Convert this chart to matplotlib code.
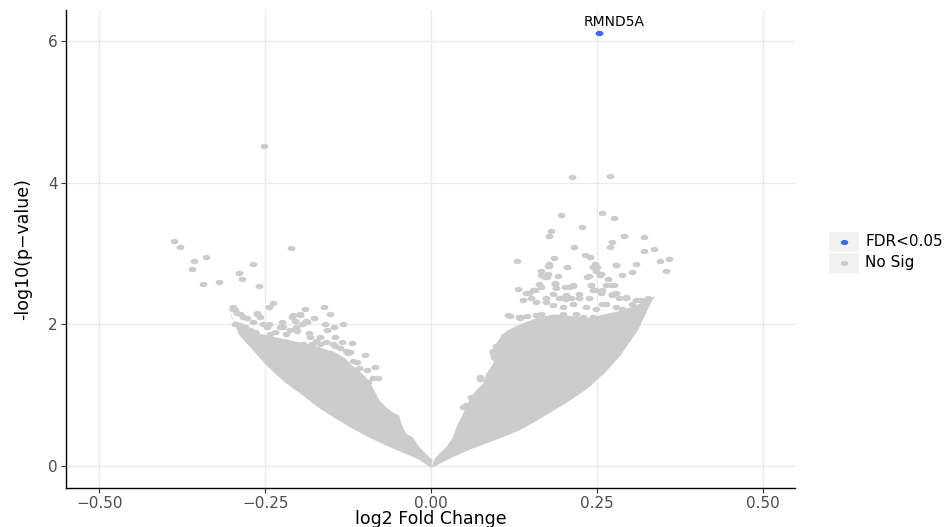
import numpy as np
import matplotlib.pyplot as plt
from matplotlib.patches import Rectangle
from matplotlib.lines import Line2D

# Dense part of the cloud (left side): outer edge then inner edge
left_cloud_x = [-0.305, -0.290, -0.270, -0.245, -0.220, -0.194, -0.169, -0.144, -0.119,
                -0.093, -0.068, -0.043, -0.018, 0.000,
                0.002, -0.018, -0.028, -0.038, -0.045, -0.048, -0.058, -0.068, -0.078,
                -0.083, -0.091, -0.098, -0.109, -0.119, -0.129, -0.144, -0.169, -0.194,
                -0.220, -0.245, -0.270, -0.290, -0.300]
left_cloud_y = [2.24, 1.86, 1.65, 1.39, 1.18, 1.00, 0.82, 0.67, 0.53,
                0.40, 0.29, 0.19, 0.09, -0.03,
                0.08, 0.27, 0.41, 0.46, 0.60, 0.71, 0.76, 0.83, 0.93,
                1.02, 1.16, 1.25, 1.35, 1.42, 1.52, 1.60, 1.68, 1.74,
                1.79, 1.84, 1.90, 1.98, 2.08]

# Dense part of the cloud (right side): outer edge then inner edge
right_cloud_x = [0.000, 0.033, 0.058, 0.083, 0.109, 0.134, 0.159, 0.184, 0.210, 0.235,
                 0.260, 0.285, 0.311, 0.333, 0.338,
                 0.311, 0.285, 0.260, 0.235, 0.210, 0.184, 0.159, 0.134, 0.114, 0.104,
                 0.093, 0.098, 0.093, 0.083, 0.078, 0.068, 0.058, 0.053, 0.048, 0.043,
                 0.038, 0.033, 0.023, 0.013, 0.005]
right_cloud_y = [-0.03, 0.13, 0.23, 0.32, 0.41, 0.51, 0.64, 0.78, 0.93, 1.09,
                 1.30, 1.56, 1.91, 2.34, 2.40,
                 2.28, 2.19, 2.14, 2.09, 2.12, 2.14, 2.09, 2.00, 1.91, 1.81,
                 1.67, 1.58, 1.44, 1.30, 1.16, 1.07, 0.95, 0.83, 0.74, 0.64,
                 0.55, 0.41, 0.27, 0.18, 0.10]

# Scattered genes outside the dense cloud (No Sig)
left_pts_x = [-0.252, -0.387, -0.379, -0.357, -0.339, -0.360, -0.344, -0.319, -0.290,
              -0.285, -0.268, -0.260, -0.211,
              -0.299, -0.293, -0.238, -0.244, -0.262, -0.190, -0.162, -0.152, -0.208,
              -0.198, -0.176, -0.189, -0.205, -0.160, -0.146, -0.133, -0.245, -0.278,
              -0.268, -0.294, -0.202, -0.184, -0.168, -0.157, -0.145, -0.223, -0.134,
              -0.119, -0.168, -0.193, -0.145, -0.129, -0.123, -0.100, -0.118, -0.108,
              -0.085, -0.088, -0.080, -0.153, -0.170,
              -0.298, -0.295, -0.288, -0.283, -0.295, -0.288, -0.280, -0.273, -0.265,
              -0.263, -0.258, -0.253, -0.248, -0.243, -0.235, -0.228, -0.225, -0.218,
              -0.213, -0.203, -0.195, -0.210, -0.198, -0.187, -0.183, -0.173, -0.193,
              -0.180, -0.158, -0.148, -0.138, -0.125, -0.112, -0.097, -0.108, -0.095]
left_pts_y = [4.52, 3.18, 3.10, 2.89, 2.95, 2.78, 2.57, 2.60, 2.73,
              2.64, 2.86, 2.54, 3.08,
              2.22, 2.16, 2.30, 2.25, 2.16, 2.22, 2.24, 2.15, 2.13,
              2.15, 2.09, 2.05, 2.05, 2.01, 1.97, 2.00, 2.00, 2.09,
              2.03, 2.00, 1.91, 1.88, 1.82, 1.92, 1.82, 1.96, 1.75,
              1.74, 1.73, 1.73, 1.70, 1.63, 1.61, 1.57, 1.49, 1.38,
              1.40, 1.25, 1.25, 1.59, 1.60,
              2.24, 2.20, 2.15, 2.10, 2.01, 1.99, 1.96, 1.92, 1.89,
              2.15, 2.10, 2.01, 1.96, 1.87, 1.89, 1.96, 2.03, 1.87,
              1.92, 1.96, 2.01, 2.10, 2.13, 2.03, 1.82, 1.77, 1.70,
              1.73, 1.75, 1.73, 1.66, 1.59, 1.47, 1.35, 1.26, 1.19]

right_pts_x = [0.212, 0.270, 0.196, 0.258, 0.275, 0.180, 0.178, 0.227, 0.291, 0.321,
               0.272, 0.270, 0.215, 0.320, 0.336, 0.129, 0.185, 0.231, 0.239, 0.177,
               0.176, 0.205, 0.247, 0.250, 0.278, 0.309, 0.345, 0.358, 0.354, 0.165,
               0.166, 0.175, 0.191, 0.238, 0.234, 0.255, 0.266, 0.288, 0.302, 0.163,
               0.186, 0.214, 0.202, 0.240, 0.276, 0.131, 0.143, 0.154, 0.188, 0.247,
               0.257, 0.278, 0.294, 0.326, 0.183, 0.196, 0.211, 0.223, 0.238, 0.151,
               0.118, 0.134, 0.144, 0.073, 0.063, 0.053, 0.098, 0.096, 0.109, 0.134,
               0.093, 0.148, 0.173, 0.208, 0.203, 0.223, 0.263, 0.273, 0.294, 0.309,
               0.138, 0.158, 0.183, 0.213, 0.233, 0.258, 0.278, 0.136, 0.158,
               0.177, 0.176, 0.171, 0.243, 0.248, 0.256, 0.279, 0.156, 0.166, 0.186,
               0.213, 0.193, 0.203, 0.241, 0.243, 0.256, 0.271, 0.273, 0.283, 0.173,
               0.198, 0.248, 0.263, 0.288, 0.303, 0.314, 0.324, 0.133, 0.166, 0.198,
               0.218, 0.228, 0.243, 0.258, 0.115, 0.113, 0.128, 0.093, 0.095, 0.073,
               0.060, 0.048]
right_pts_y = [4.08, 4.09, 3.54, 3.58, 3.50, 3.32, 3.25, 3.37, 3.25, 3.24,
               3.16, 3.09, 3.09, 3.04, 3.07, 2.89, 2.94, 2.98, 2.95, 2.85,
               2.82, 2.81, 2.86, 2.81, 2.84, 2.85, 2.90, 2.92, 2.75, 2.75,
               2.70, 2.67, 2.69, 2.69, 2.67, 2.70, 2.64, 2.70, 2.74, 2.57,
               2.58, 2.54, 2.53, 2.55, 2.55, 2.50, 2.45, 2.48, 2.51, 2.48,
               2.48, 2.44, 2.39, 2.37, 2.43, 2.38, 2.38, 2.37, 2.38, 2.38,
               2.12, 2.09, 2.12, 1.23, 0.97, 0.86, 1.70, 1.53, 1.84, 1.91,
               1.60, 2.45, 2.38, 2.53, 2.41, 2.43, 2.55, 2.41, 2.38, 2.34,
               2.34, 2.31, 2.27, 2.29, 2.24, 2.29, 2.24, 2.10, 2.13,
               2.83, 2.71, 2.67, 2.81, 2.76, 2.71, 2.84, 2.48, 2.53, 2.57,
               2.55, 2.38, 2.36, 2.55, 2.48, 2.45, 2.55, 2.43, 2.38, 2.31,
               2.24, 2.22, 2.29, 2.22, 2.29, 2.34, 2.34, 2.10, 2.15, 2.15,
               2.15, 2.10, 2.10, 2.06, 2.13, 1.85, 1.77, 1.63, 1.54, 1.26,
               0.98, 0.84]

# Significant gene
sig_x = [0.253]
sig_y = [6.12]
sig_label = ["RMND5A"]

GRAY = "#CCCCCC"
BLUE = "#4169E1"

# ellipse marker (points look wider than tall in the reference)
t = np.linspace(0, 2 * np.pi, 40)
ellipse = np.column_stack([1.45 * np.cos(t), np.sin(t)])

fig = plt.figure(figsize=(9.46, 5.27), dpi=100)
ax = fig.add_axes([66 / 946, 1 - 488 / 527, (795 - 66) / 946, (488 - 10) / 527])

ax.set_xlim(-0.55, 0.548)
ax.set_ylim(-0.31, 6.44)

ax.grid(True, color="#EBEBEB", linewidth=1.0)
ax.set_axisbelow(True)

ax.fill(left_cloud_x, left_cloud_y, color=GRAY, linewidth=0, zorder=2)
ax.fill(right_cloud_x, right_cloud_y, color=GRAY, linewidth=0, zorder=2)
ax.scatter(left_pts_x + right_pts_x, left_pts_y + right_pts_y, marker=ellipse,
           s=32, color=GRAY, linewidths=0, zorder=3)
ax.scatter(sig_x, sig_y, marker=ellipse, s=32, color=BLUE, linewidths=0, zorder=4)

for x, y, lab in zip(sig_x, sig_y, sig_label):
    ax.annotate(lab, (x, y), xytext=(11, 8), textcoords="offset points",
                ha="center", va="center", fontsize=10, color="black")

for side in ["top", "right"]:
    ax.spines[side].set_visible(False)
for side in ["left", "bottom"]:
    ax.spines[side].set_color("black")
    ax.spines[side].set_linewidth(1.0)

ax.set_xticks([-0.5, -0.25, 0, 0.25, 0.5])
ax.set_xticklabels(["\u22120.50", "\u22120.25", "0.00", "0.25", "0.50"])
ax.set_yticks([0, 2, 4, 6])
ax.tick_params(axis="both", colors="#333333", labelcolor="#4D4D4D",
               labelsize=11, length=3.5, width=0.8, pad=2.5)

ax.set_xlabel("log2 Fold Change", fontsize=12.5)
ax.xaxis.set_label_coords(0.5, -0.047)
ax.set_ylabel("-log10(p\u2212value)", fontsize=12.5)
ax.yaxis.set_label_coords(-0.047, 0.5)

# legend drawn like ggplot keys
W, H = 946, 527
keys = [("FDR<0.05", BLUE, 232), ("No Sig", GRAY, 253)]
for lab, col, ytop in keys:
    fig.patches.append(Rectangle((829 / W, 1 - (ytop + 20) / H), 30 / W, 20 / H,
                                 transform=fig.transFigure, facecolor="#F2F2F2",
                                 edgecolor="none"))
    fig.add_artist(Line2D([844 / W], [1 - (ytop + 10) / H], marker=ellipse,
                          markersize=5.4, color=col, markeredgewidth=0,
                          transform=fig.transFigure))
    fig.text(865 / W, 1 - (ytop + 10) / H, lab, fontsize=11, va="center", ha="left")

fig.savefig("out.png", dpi=100)
